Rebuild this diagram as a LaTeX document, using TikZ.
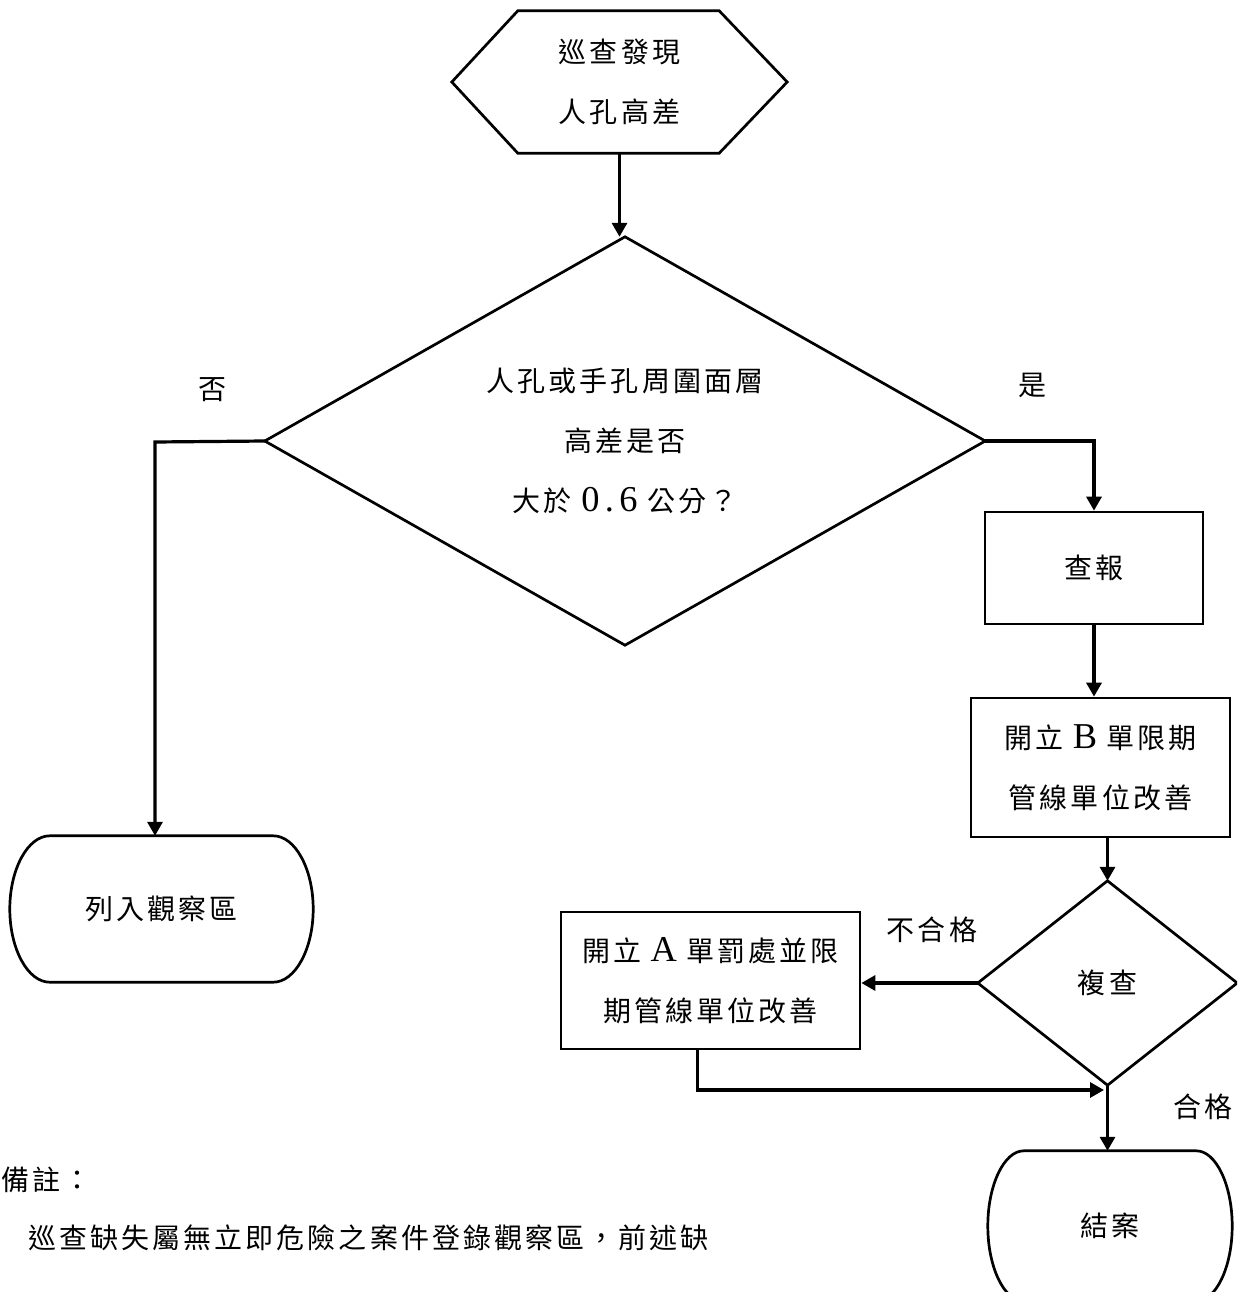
\documentclass[tikz,border=0pt]{standalone}
\usepackage{fontspec}
\setmainfont{Liberation Serif}
\newfontfamily\cjk[LetterSpace=11]{Noto Sans CJK TC}
\newfontfamily\lat[Scale=1.3,LetterSpace=15]{Liberation Serif}
\usetikzlibrary{arrows.meta,calc}
\newcommand\termoutline[3]{% node name, x radius, y control
  \draw[shp] ($(#1.north west)+(#2,0)$) -- ($(#1.north east)+(-#2,0)$)
    .. controls +(0.55*#2,0) and +(0,-#3) .. (#1.east)
    .. controls +(0,#3) and +(0.55*#2,0) .. ($(#1.south east)+(-#2,0)$)
    -- ($(#1.south west)+(#2,0)$)
    .. controls +(-0.55*#2,0) and +(0,#3) .. (#1.west)
    .. controls +(0,-#3) and +(-0.55*#2,0) .. ($(#1.north west)+(#2,0)$) -- cycle;}
\begin{document}
\begin{tikzpicture}[x=1pt,y=-1pt,
  shp/.style={line width=2.7pt, line join=miter},
  conn/.style={line width=3.2pt, -{Triangle[length=14pt,width=15pt]}},
  box/.style={rectangle, inner sep=0pt, align=center, font=\fontsize{28}{60}\cjk},
  lbl/.style={inner sep=0pt, font=\fontsize{28}{34}\cjk}]
\useasboundingbox (0,0) rectangle (1237,1292);
\fill[white] (0,0) rectangle (1237,1292);
\clip (0,0) rectangle (1237,1292);

% nodes
\node[box, minimum width=335pt, minimum height=142pt] (start) at (619.5,82) {巡查發現\\人孔高差};
\node[box, minimum width=720pt, minimum height=408pt] (q1) at (625,441) {人孔或手孔周圍面層\\高差是否\\大於 {\lat 0.6} 公分？};
\node[box, minimum width=303pt, minimum height=146pt] (obs) at (161.5,909) {列入觀察區};
\node[box, draw, shp, minimum width=218pt, minimum height=112pt] (rep) at (1094,568) {查報};
\node[box, draw, shp, minimum width=259pt, minimum height=139pt] (bbox) at (1100.5,767.5) {開立 {\lat B} 單限期\\管線單位改善};
\node[box, minimum width=259pt, minimum height=204pt] (q2) at (1107.5,983) {複查};
\node[box, draw, shp, minimum width=299pt, minimum height=137pt] (abox) at (710.5,980.5) {開立 {\lat A} 單罰處並限\\期管線單位改善};
\node[box, minimum width=244pt, minimum height=150pt] (fin) at (1110,1226) {結案};

% outlines
\draw[shp] (start.west) -- ($(start.north west)+(66,0)$) -- ($(start.north east)+(-68,0)$)
  -- (start.east) -- ($(start.south east)+(-68,0)$) -- ($(start.south west)+(66,0)$) -- cycle;
\draw[shp] (q1.north) -- (q1.east) -- (q1.south) -- (q1.west) -- cycle;
\draw[shp] (q2.north) -- (q2.east) -- (q2.south) -- (q2.west) -- cycle;
\termoutline{obs}{40}{40}
\termoutline{fin}{36}{41}

% labels
\node[lbl] (no) at (212,390) {否};
\node[lbl] (yes) at (1032,385) {是};
\node[lbl] (fail) at (932,930) {不合格};
\node[lbl] (pass) at (1203,1107) {合格};
\node[lbl, anchor=west] (note1) at (1,1180) {備註：};
\node[lbl, anchor=west] (note2) at (28,1238) {巡查缺失屬無立即危險之案件登錄觀察區，前述缺};

% connectors
\draw[conn] (start.south) -- (start.south |- q1.north);
\coordinate (nobend) at (155,442);
\draw[conn] (q1.west) -- (nobend) -- (nobend |- obs.north);
\draw[conn] (q1.east) -| (rep.north);
\draw[conn] (rep.south) -- (rep.south |- bbox.north);
\draw[conn] (bbox.south -| q2.north) -- (q2.north);
\draw[conn] (q2.west) -- (q2.west -| abox.east);
\coordinate (join) at (1104,1090);
\draw[conn] ($(abox.south)+(-13,0)$) |- (join);
\draw[conn] (q2.south) -- (q2.south |- fin.north);
\end{tikzpicture}
\end{document}
